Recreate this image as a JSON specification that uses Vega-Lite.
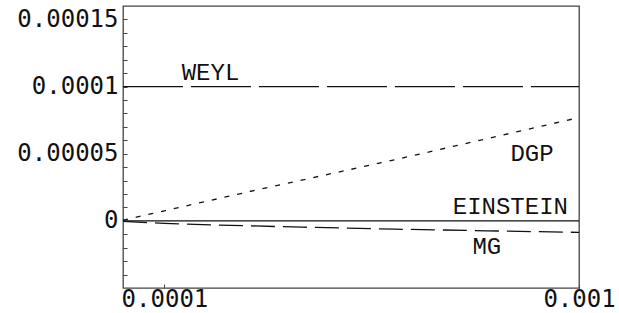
{
  "$schema": "https://vega.github.io/schema/vega-lite/v6.json",
  "width": 456,
  "height": 282,
  "autosize": "none",
  "padding": {"left": 123, "top": 6, "right": 40, "bottom": 25},
  "background": "white",
  "config": {
    "view": {"stroke": "#444", "strokeWidth": 1.3},
    "axis": {"grid": false, "domain": false, "title": null, "tickColor": "#444", "tickWidth": 1, "labelFont": "DejaVu Sans Mono", "labelFontSize": 24, "labelColor": "#111", "labelOverlap": false}
  },
  "datasets": {
    "lines": [
      {"series": "WEYL", "x": 0.00001, "y": 0.0001},
      {"series": "WEYL", "x": 0.001, "y": 0.0001},
      {"series": "EINSTEIN", "x": 0.00001, "y": 0},
      {"series": "EINSTEIN", "x": 0.001, "y": 0},
      {"series": "DGP", "x": 0.00001, "y": 0.0000005},
      {"series": "DGP", "x": 0.0001, "y": 0.0000075},
      {"series": "DGP", "x": 0.0003, "y": 0.000023},
      {"series": "DGP", "x": 0.0006, "y": 0.0000455},
      {"series": "DGP", "x": 0.001, "y": 0.0000769},
      {"series": "MG", "x": 0.00001, "y": -0.0000004},
      {"series": "MG", "x": 0.0001, "y": -0.0000019},
      {"series": "MG", "x": 0.0002, "y": -0.000003},
      {"series": "MG", "x": 0.0004, "y": -0.0000047},
      {"series": "MG", "x": 0.0006, "y": -0.0000062},
      {"series": "MG", "x": 0.0008, "y": -0.0000074},
      {"series": "MG", "x": 0.001, "y": -0.0000086}
    ],
    "labels": [
      {"label": "WEYL", "x": 0.0002, "y": 0.000105},
      {"label": "DGP", "x": 0.000898, "y": 0.0000448},
      {"label": "EINSTEIN", "x": 0.000851, "y": 0.0000049},
      {"label": "MG", "x": 0.0008, "y": -0.0000247}
    ]
  },
  "layer": [
    {
      "data": {"name": "lines"},
      "mark": {"type": "line", "strokeWidth": 1.3, "color": "#111", "clip": true},
      "encoding": {
        "x": {"field": "x", "type": "quantitative", "scale": {"domain": [0.00001, 0.001], "nice": false, "zero": false},
              "axis": {"values": [0.0001, 0.001], "tickCount": 100, "labelExpr": "format(datum.value, '.4~f')", "tickSize": -4, "labelPadding": 3, "labelFlush": false, "labelOverlap": false}},
        "y": {"field": "y", "type": "quantitative", "scale": {"domain": [-0.00005, 0.00016], "nice": false, "zero": false},
              "axis": {"values": [-0.00004, -0.00003, -0.00002, -0.00001, 0, 0.00001, 0.00002, 0.00003, 0.00004, 0.00005, 0.00006, 0.00007, 0.00008, 0.00009, 0.0001, 0.00011, 0.00012, 0.00013, 0.00014, 0.00015],
                       "tickCount": 100,
                       "labelExpr": "round(datum.value * 100000) % 5 == 0 ? format(datum.value, '.5~f') : ''",
                       "tickSize": -4, "labelPadding": 9, "labelFlush": false, "labelOverlap": false}},
        "detail": {"field": "series"},
        "strokeDash": {"field": "series", "type": "nominal", "legend": null,
                       "scale": {"domain": ["WEYL", "DGP", "EINSTEIN", "MG"], "range": [[60, 8], [5, 8], [1, 0], [24, 8]]}},
        "order": {"field": "x", "type": "quantitative"}
      }
    },
    {
      "data": {"name": "labels"},
      "mark": {"type": "text", "font": "Liberation Mono", "fontSize": 24, "baseline": "alphabetic", "align": "center", "color": "#111"},
      "encoding": {
        "x": {"field": "x", "type": "quantitative"},
        "y": {"field": "y", "type": "quantitative"},
        "text": {"field": "label"}
      }
    }
  ]
}
